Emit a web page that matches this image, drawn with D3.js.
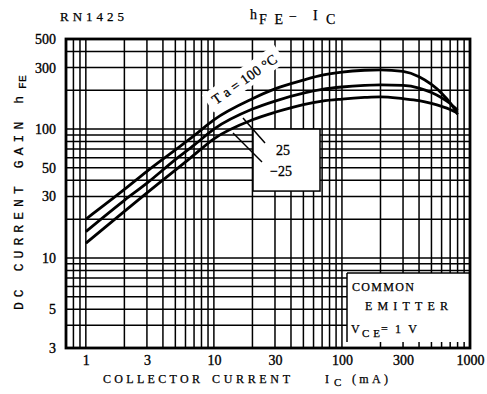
<!DOCTYPE html>
<html lang="en">
<head>
  <meta charset="UTF-8">
  <title>RN1425 hFE - IC</title>
  <style>
    html, body { margin: 0; background: #fff; overflow: hidden; }
    svg { display: block; }
    text { fill: #000; }
  </style>
</head>
<body>
  <div id="chart"></div>
  <script src="https://cdn.jsdelivr.net/npm/d3@7/dist/d3.min.js"></script>
  <script>
    // collector current (mA)
    const ic = [1, 2, 3, 5, 7, 10, 20, 30, 50, 70, 100, 150, 200, 300, 400, 500, 600, 700, 800]
    // hFE per ambient temperature
    const hfe100 = [20, 34, 47, 69, 89, 118, 172, 205, 240, 262, 277, 286, 288, 280, 255, 222, 190, 160, 130]
    const hfe25 = [16, 28, 38, 58, 75, 100, 143, 165, 190, 203, 212, 218, 220, 218, 208, 192, 175, 158, 140]
    const hfeM25 = [13, 23, 32, 48, 63, 84, 118, 135, 155, 165, 171, 176, 178, 172, 166, 158, 150, 142, 133]

    const xTicks = [1, 3, 10, 30, 100, 300, 1000]
    // the printed labels "5" and "3" sit on the 4 and 2 grid lines of the sheet
    const yTickPos = [500, 300, 100, 50, 30, 10, 4, 2]
    const yTickText = ['500', '300', '100', '50', '30', '10', '5', '3']

    const W = 487, H = 394
    const serif = 'Liberation Serif'
    const svg = d3.select('#chart').append('svg')
      .attr('width', W).attr('height', H)

    const x = d3.scaleLog().domain([0.7, 1000]).range([66, 470])
    const y = d3.scaleLog().domain([2, 500]).range([348, 39])

    // grid
    const xGrid = []
    for (const dec of [0.1, 1, 10, 100]) for (let k = 1; k <= 9; k++) {
      const v = +(dec * k).toPrecision(3)
      if (v >= 0.7 && v <= 1000) xGrid.push(v)
    }
    xGrid.push(1000)
    const yGrid = []
    for (const dec of [1, 10, 100]) for (let k = 1; k <= 9; k++) {
      const v = dec * k
      if (v >= 2 && v <= 500) yGrid.push(v)
    }

    const grid = svg.append('g').attr('stroke', '#000').attr('stroke-width', 1.5)
    grid.selectAll('.vx').data(xGrid).join('line')
      .attr('x1', d => x(d)).attr('x2', d => x(d))
      .attr('y1', y(500)).attr('y2', y(2))
    grid.selectAll('.hy').data(yGrid).join('line')
      .attr('x1', x(0.7)).attr('x2', x(1000))
      .attr('y1', d => y(d)).attr('y2', d => y(d))

    // label boxes knock out the grid
    svg.append('rect').attr('x', 253).attr('y', y(100)).attr('width', 67).attr('height', 62)
      .attr('fill', '#fff').attr('stroke', '#000').attr('stroke-width', 1.5)
    svg.append('rect').attr('x', 347).attr('y', 273).attr('width', 123).attr('height', 69)
      .attr('fill', '#fff')
    svg.append('line').attr('x1', 347).attr('x2', 347).attr('y1', 273).attr('y2', 342)
      .attr('stroke', '#000').attr('stroke-width', 1.5)
    svg.append('line').attr('x1', 347).attr('x2', 470).attr('y1', 273).attr('y2', 273)
      .attr('stroke', '#000').attr('stroke-width', 1.5)

    // Ta label
    const ta = svg.append('g').attr('transform', 'translate(216,105) rotate(-35)')
    ta.append('rect').attr('x', -6).attr('y', -16).attr('width', 88).attr('height', 21).attr('fill', '#fff')
    ta.append('text').attr('font-family', serif).attr('font-size', 14)
      .attr('stroke', '#000').attr('stroke-width', 0.3)
      .attr('textLength', 76).attr('lengthAdjust', 'spacing').text('T a = 100 °C')

    // frame
    svg.append('rect').attr('x', x(0.7)).attr('y', y(500))
      .attr('width', x(1000) - x(0.7)).attr('height', y(2) - y(500))
      .attr('fill', 'none').attr('stroke', '#000').attr('stroke-width', 2.8)

    // curves
    const line = d3.line().x(d => x(d[0])).y(d => y(d[1])).curve(d3.curveMonotoneX)
    for (const s of [hfe100, hfe25, hfeM25]) {
      svg.append('path').datum(ic.map((v, i) => [v, s[i]]))
        .attr('d', line).attr('fill', 'none').attr('stroke', '#000').attr('stroke-width', 2.8)
    }

    // leaders
    svg.append('line').attr('x1', 243).attr('y1', 118).attr('x2', 265).attr('y2', 143)
      .attr('stroke', '#000').attr('stroke-width', 1.5)
    svg.append('line').attr('x1', 233).attr('y1', 133).attr('x2', 262).attr('y2', 162)
      .attr('stroke', '#000').attr('stroke-width', 1.5)
    const lab = svg.append('g').attr('font-family', serif).attr('font-size', 14)
      .attr('stroke', '#000').attr('stroke-width', 0.3)
    lab.append('text').attr('x', 276).attr('y', 155).text('25')
    lab.append('text').attr('x', 270).attr('y', 176).text('−25')

    // axis labels
    const xAxis = d3.axisBottom(x).tickValues(xTicks).tickSize(0).tickFormat(d3.format('d'))
    svg.append('g').attr('transform', `translate(0,${y(2) + 4})`).call(xAxis)
      .call(g => g.select('.domain').remove())
      .selectAll('text').attr('font-family', serif).attr('font-size', 14)
      .attr('stroke', '#000').attr('stroke-width', 0.35)
    const yAxis = d3.axisLeft(y).tickValues(yTickPos).tickSize(0)
      .tickFormat((d, i) => yTickText[i])
    svg.append('g').attr('transform', `translate(${x(0.7) - 7},0)`).call(yAxis)
      .call(g => g.select('.domain').remove())
      .selectAll('text').attr('font-family', serif).attr('font-size', 14)
      .attr('stroke', '#000').attr('stroke-width', 0.35)

    // titles
    svg.append('text').attr('x', 60).attr('y', 21).attr('font-family', serif)
      .attr('font-size', 13).attr('stroke', '#000').attr('stroke-width', 0.25)
      .attr('textLength', 64).attr('lengthAdjust', 'spacing').text('RN1425')
    const t = svg.append('g').attr('font-family', serif).attr('font-size', 14)
      .attr('stroke', '#000').attr('stroke-width', 0.25)
    t.append('text').attr('x', 250).attr('y', 19).text('h')
    t.append('text').attr('x', 259).attr('y', 24).attr('textLength', 24)
      .attr('lengthAdjust', 'spacing').text('FE')
    t.append('text').attr('x', 289).attr('y', 21).text('−')
    t.append('text').attr('x', 313).attr('y', 20).text('I')
    t.append('text').attr('x', 326).attr('y', 24).text('C')

    const yt = svg.append('text').attr('transform', 'translate(23,310) rotate(-90)')
      .attr('font-family', 'Liberation Mono').attr('font-size', 13)
      .attr('stroke', '#000').attr('stroke-width', 0.25)
    yt.append('tspan').attr('textLength', 214).attr('lengthAdjust', 'spacing').text('DC CURRENT GAIN h')
    yt.append('tspan').attr('dy', 3).attr('dx', 2).attr('font-size', 11.5).text('FE')

    const xt = svg.append('g').attr('font-family', serif).attr('font-size', 12)
      .attr('stroke', '#000').attr('stroke-width', 0.25)
    xt.append('text').attr('x', 103).attr('y', 383).attr('textLength', 97)
      .attr('lengthAdjust', 'spacing').text('COLLECTOR')
    xt.append('text').attr('x', 212).attr('y', 383).attr('textLength', 78)
      .attr('lengthAdjust', 'spacing').text('CURRENT')
    xt.append('text').attr('x', 325).attr('y', 383).text('I')
    xt.append('text').attr('x', 334).attr('y', 386).attr('font-size', 11).text('C')
    xt.append('text').attr('x', 352).attr('y', 383).attr('textLength', 36)
      .attr('lengthAdjust', 'spacing').text('(mA)')

    const ce = svg.append('g').attr('font-family', serif).attr('font-size', 12)
      .attr('stroke', '#000').attr('stroke-width', 0.25)
    ce.append('text').attr('x', 352).attr('y', 291).attr('textLength', 62)
      .attr('lengthAdjust', 'spacing').text('COMMON')
    ce.append('text').attr('x', 365).attr('y', 310).attr('textLength', 83)
      .attr('lengthAdjust', 'spacing').text('EMITTER')
    ce.append('text').attr('x', 351).attr('y', 333).text('V')
    ce.append('text').attr('x', 362).attr('y', 337).attr('font-size', 11)
      .attr('textLength', 18).attr('lengthAdjust', 'spacing').text('CE')
    ce.append('text').attr('x', 381).attr('y', 333).attr('textLength', 36)
      .attr('lengthAdjust', 'spacing').text('=1V')
  </script>
</body>
</html>
